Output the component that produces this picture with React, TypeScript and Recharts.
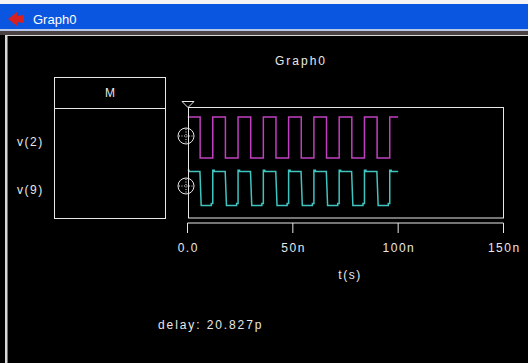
import React from 'react';
import { LineChart, Line, XAxis, YAxis } from 'recharts';

// ---- data ----
const windowTitle = 'Graph0';
const chartTitle = 'Graph0';
const panelTitle = 'M';
const signalNames = ['v(2)', 'v(9)'];
const xTickValues = [0, 50, 100, 150];
const xTickLabels = ['0.0', '50n', '100n', '150n'];
const xAxisName = 't(s)';
const delayText = 'delay: 20.827p';

// v(2): clean clock (transition times in ns, level after each time)
const v2Times = [0, 6, 12, 18, 24, 30, 36, 42, 48, 54, 60, 66, 72, 78, 84, 90, 96, 100];
const v2Values = [1, 0, 1, 0, 1, 0, 1, 0, 1, 0, 1, 0, 1, 0, 1, 0, 1, 1];

// v(9): buffered output with small glitches (piecewise-linear points)
const v9Times = [
  0, 0.7, 0.7, 5.9, 6.5, 11.3, 11.3, 12,
  12, 12.7, 12.7, 17.9, 18.5, 23.3, 23.3, 24,
  24, 24.7, 24.7, 29.9, 30.5, 35.3, 35.3, 36,
  36, 36.7, 36.7, 41.9, 42.5, 47.3, 47.3, 48,
  48, 48.7, 48.7, 53.9, 54.5, 59.3, 59.3, 60,
  60, 60.7, 60.7, 65.9, 66.5, 71.3, 71.3, 72,
  72, 72.7, 72.7, 77.9, 78.5, 83.3, 83.3, 84,
  84, 84.7, 84.7, 89.9, 90.5, 95.3, 95.3, 96,
  96, 96.7, 96.7, 100,
];
const v9Values = [
  1.04, 1.04, 1, 1, 0, 0, 0.06, 0.06,
  1.04, 1.04, 1, 1, 0, 0, 0.06, 0.06,
  1.04, 1.04, 1, 1, 0, 0, 0.06, 0.06,
  1.04, 1.04, 1, 1, 0, 0, 0.06, 0.06,
  1.04, 1.04, 1, 1, 0, 0, 0.06, 0.06,
  1.04, 1.04, 1, 1, 0, 0, 0.06, 0.06,
  1.04, 1.04, 1, 1, 0, 0, 0.06, 0.06,
  1.04, 1.04, 1, 1, 0, 0, 0.06, 0.06,
  1.04, 1.04, 1, 1,
];

const v2Data = v2Times.map((t, i) => ({ t, v: v2Values[i] }));
const v9Data = v9Times.map((t, i) => ({ t, v: v9Values[i] }));

// ---- layout ----
const W = 528;
const H = 363;
const PLOT_L = 187.5;
const PLOT_R = 503.5;
const PLOT_T = 107;
const AXIS_Y = 223;
const BOX_B = 218;
const XAXIS_H = 30;

const bandDomain = (highPx: number, lowPx: number): [number, number] => {
  const ppu = lowPx - highPx;
  return [-(AXIS_Y - lowPx) / ppu, 1 + (highPx - PLOT_T) / ppu];
};

const MAGENTA = '#c040c0';
const CYAN = '#40c4c0';
const FONT = '"Liberation Sans", Arial, sans-serif';

const XTick = (props: any) => {
  const { x, payload } = props;
  const idx = xTickValues.indexOf(payload.value);
  return (
    <text
      x={x + 0.75}
      y={252}
      textAnchor="middle"
      fill="#e8e8e8"
      fontSize={12}
      fontFamily={FONT}
      style={{ letterSpacing: '1.5px' }}
    >
      {idx >= 0 ? xTickLabels[idx] : ''}
    </text>
  );
};

const Cursor = ({ cy }: { cy: number }) => (
  <g>
    <circle cx={186} cy={cy} r={8} fill="none" stroke="#e8e8e8" strokeWidth={1} />
    <line x1={179} y1={cy} x2={193} y2={cy} stroke="#e8e8e8" strokeWidth={1} strokeDasharray="1 1.5" />
    <line x1={186} y1={cy - 7} x2={186} y2={cy + 7} stroke="#e8e8e8" strokeWidth={1} strokeDasharray="1 1.5" />
  </g>
);

export default function App() {
  return (
    <div
      style={{
        position: 'fixed',
        left: 0,
        top: 0,
        width: W,
        height: H,
        background: '#000',
        overflow: 'hidden',
      }}
    >
      {/* window chrome */}
      <svg width={W} height={H} style={{ position: 'absolute', left: 0, top: 0 }}>
        <rect x={0} y={0} width={W} height={4} fill="#f4f4f4" />
        <rect x={0} y={4} width={W} height={25} fill="#0a56e0" />
        <rect x={0} y={29} width={W} height={2} fill="#b8c8e8" />
        <rect x={0} y={31} width={W} height={4} fill="#4a4242" />
        <rect x={5} y={35} width={2} height={H - 35} fill="#d8d8d8" />
        <rect x={7} y={35} width={1} height={H - 35} fill="#707070" />
        <rect x={5} y={35} width={W - 5} height={1} fill="#d8d8d8" />
        <polygon points="8,19 17,12 17,16 24,15 24,23 17,22 17,26" fill="#d82020" />
        <text x={33} y={24} fill="#ffffff" fontSize={13} fontFamily={FONT}>
          {windowTitle}
        </text>
      </svg>

      <div style={{ position: 'absolute', left: 0, top: 0 }}>
        <LineChart
          width={W}
          height={H}
          margin={{ top: PLOT_T, left: PLOT_L, right: W - PLOT_R, bottom: H - AXIS_Y - XAXIS_H }}
        >
          <XAxis
            dataKey="t"
            type="number"
            domain={[0, 150]}
            ticks={xTickValues}
            interval={0}
            allowDataOverflow
            height={XAXIS_H}
            axisLine={{ stroke: '#e8e8e8', strokeWidth: 1 }}
            tickLine={{ stroke: '#e8e8e8', strokeWidth: 1 }}
            tickSize={10}
            tick={<XTick />}
          />
          <YAxis yAxisId="v2" type="number" domain={bandDomain(117, 158)} allowDataOverflow hide />
          <YAxis yAxisId="v9" type="number" domain={bandDomain(171.5, 205.5)} allowDataOverflow hide />
          <Line
            yAxisId="v2"
            data={v2Data}
            dataKey="v"
            type="stepAfter"
            stroke={MAGENTA}
            strokeWidth={1.5}
            dot={false}
            isAnimationActive={false}
          />
          <Line
            yAxisId="v9"
            data={v9Data}
            dataKey="v"
            type="linear"
            stroke={CYAN}
            strokeWidth={1.5}
            dot={false}
            isAnimationActive={false}
          />
        </LineChart>
      </div>

      {/* graph decorations */}
      <svg width={W} height={H} style={{ position: 'absolute', left: 0, top: 0, pointerEvents: 'none' }}>
        <rect x={188.5} y={107.5} width={315} height={BOX_B - 107.5} fill="none" stroke="#e8e8e8" strokeWidth={1} />
        <rect x={54.5} y={77.5} width={111} height={141} fill="none" stroke="#e8e8e8" strokeWidth={1} />
        <line x1={54.5} y1={108.5} x2={165.5} y2={108.5} stroke="#e8e8e8" strokeWidth={1} />
        <polygon points="182,101.5 194,101.5 188,107.5" fill="none" stroke="#e8e8e8" strokeWidth={1} />
        <Cursor cy={136} />
        <Cursor cy={186} />
        <text x={301} y={65} textAnchor="middle" fill="#e8e8e8" fontSize={12} fontFamily={FONT} style={{ letterSpacing: '2px' }}>
          {chartTitle}
        </text>
        <text x={110} y={97} textAnchor="middle" fill="#e8e8e8" fontSize={12} fontFamily={FONT}>
          {panelTitle}
        </text>
        <text x={17} y={146} fill="#e8e8e8" fontSize={12} fontFamily={FONT} style={{ letterSpacing: '1.5px' }}>
          {signalNames[0]}
        </text>
        <text x={17} y={194} fill="#e8e8e8" fontSize={12} fontFamily={FONT} style={{ letterSpacing: '1.5px' }}>
          {signalNames[1]}
        </text>
        <text x={350} y={279} textAnchor="middle" fill="#e8e8e8" fontSize={12} fontFamily={FONT} style={{ letterSpacing: '1.5px' }}>
          {xAxisName}
        </text>
        <text x={158} y={329} fill="#e8e8e8" fontSize={12} fontFamily={FONT} style={{ letterSpacing: '1.9px' }}>
          {delayText}
        </text>
      </svg>
    </div>
  );
}
